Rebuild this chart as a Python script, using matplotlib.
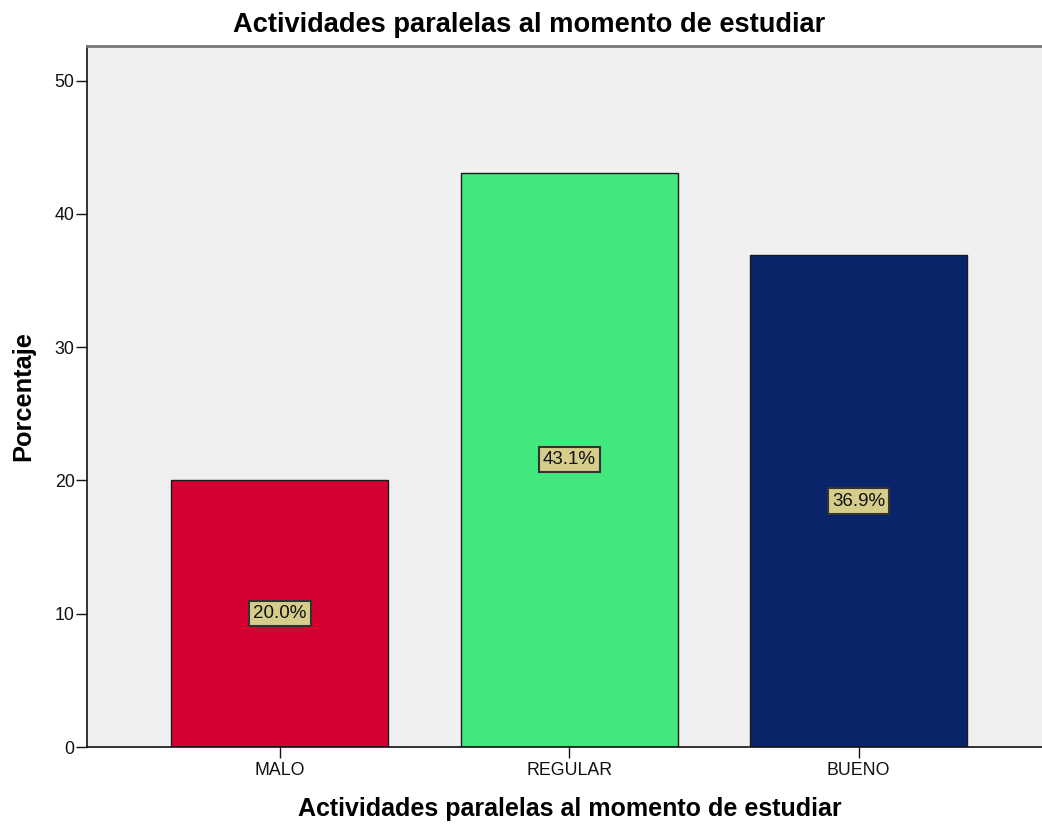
import matplotlib
matplotlib.use("Agg")
import matplotlib.pyplot as plt

plt.rcParams["font.family"] = ["Liberation Sans", "DejaVu Sans"]

categories = ["MALO", "REGULAR", "BUENO"]
percentages = [20.0, 43.1, 36.9]
bar_colors = ["#D50032", "#42E87E", "#0A246A"]
y_ticks = [0, 10, 20, 30, 40, 50]

fig = plt.figure(figsize=(10.42, 8.25), dpi=100)
ax = fig.add_axes([87 / 1042, 1 - 747 / 825, 1 - 87 / 1042, (747 - 46) / 825])
ax.set_facecolor("#F0F0F0")

x = list(range(len(categories)))
ax.bar(x, percentages, width=0.75, color=bar_colors, edgecolor="#1a1a1a",
       linewidth=1.0, zorder=2)
for xi, v in zip(x, percentages):
    ax.text(xi, v / 2, f"{v:.1f}%", ha="center", va="center", fontsize=13.5,
            color="#111111", zorder=3,
            bbox=dict(boxstyle="square,pad=0.22", facecolor="#D6CD8A",
                      edgecolor="#333333", linewidth=1.5))

ax.set_xlim(-0.667, 2.634)
ax.set_ylim(0, 52.6)
ax.set_yticks(y_ticks)
ax.set_xticks(x)
ax.set_xticklabels(categories)
ax.tick_params(axis="both", labelsize=12.8, colors="#111111", length=8, width=1.0)
ax.tick_params(axis="y", pad=1)
ax.tick_params(axis="x", pad=3)

ax.spines["top"].set_color("#777777")
ax.spines["top"].set_linewidth(2.0)
ax.spines["right"].set_visible(False)
ax.spines["left"].set_color("#111111")
ax.spines["bottom"].set_color("#111111")
ax.spines["left"].set_linewidth(1.2)
ax.spines["bottom"].set_linewidth(1.2)

ax.set_ylabel("Porcentaje", fontsize=18.3, fontweight="bold")
ax.yaxis.set_label_coords(-0.054, 0.5)
ax.set_xlabel("Actividades paralelas al momento de estudiar", fontsize=18,
              fontweight="bold")
ax.xaxis.set_label_coords(0.506, -0.071)
fig.text(529 / 1042, 1 - 25 / 825, "Actividades paralelas al momento de estudiar",
         ha="center", va="center", fontsize=19.6, fontweight="bold")

fig.savefig("out.png", dpi=100)
